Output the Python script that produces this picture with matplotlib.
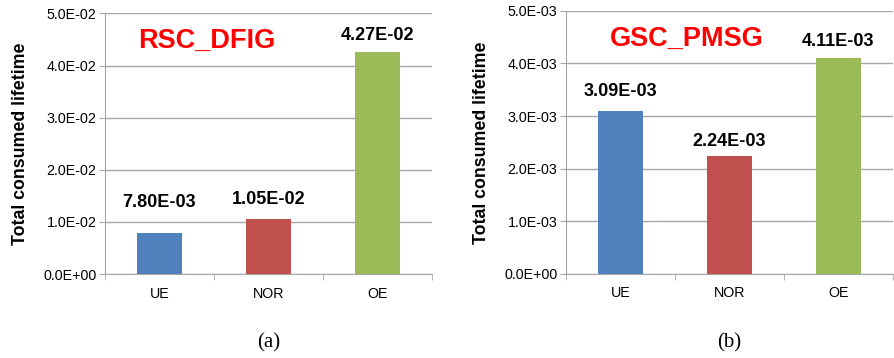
import numpy as np
import matplotlib.pyplot as plt
from matplotlib.ticker import FuncFormatter

plt.rcParams['font.family'] = ['Liberation Sans', 'DejaVu Sans']

# Consumed lifetime per operating mode
categories = ['UE', 'NOR', 'OE']
rsc_dfig = [7.80e-3, 1.05e-2, 4.27e-2]
gsc_pmsg = [3.09e-3, 2.24e-3, 4.11e-3]
rsc_labels = ['7.80E-03', '1.05E-02', '4.27E-02']
gsc_labels = ['3.09E-03', '2.24E-03', '4.11E-03']
rsc_ticks = [0, 1e-2, 2e-2, 3e-2, 4e-2, 5e-2]
gsc_ticks = [0, 1e-3, 2e-3, 3e-3, 4e-3, 5e-3]

colors = ['#4F81BD', '#C0504D', '#9BBB59']
grid_c = '#A6A6A6'


def sci(v, pos=None):
    if v == 0:
        return '0.0E+00'
    return f'{v:.1E}'


def panel(ax, values, labels, ticks, title, tag, title_x, gaps):
    x = np.arange(len(categories))
    ax.bar(x, values, width=0.41, color=colors, zorder=3)
    # data labels sit at hand-placed heights above each bar
    for xi, v, lab, g in zip(x, values, labels, gaps):
        ax.annotate(lab, (xi, v), xytext=(0, g), textcoords='offset points',
                    ha='center', va='bottom', fontsize=13, fontweight='bold')
    ax.set_xlim(-0.5, 2.5)
    ax.set_ylim(ticks[0], ticks[-1])
    ax.set_yticks(ticks)
    ax.yaxis.set_major_formatter(FuncFormatter(sci))
    ax.set_xticks(x)
    ax.set_xticklabels(categories)
    ax.set_xticks([-0.5, 0.5, 1.5, 2.5], minor=True)
    ax.tick_params(axis='x', which='major', length=0, pad=9, labelsize=10.3)
    ax.tick_params(axis='x', which='minor', length=4, color=grid_c, direction='out')
    ax.tick_params(axis='y', length=4, color=grid_c, labelsize=10.3, pad=2)
    ax.grid(axis='y', color=grid_c, linewidth=1, zorder=0)
    for side in ['top', 'right']:
        ax.spines[side].set_visible(False)
    for side in ['left', 'bottom']:
        ax.spines[side].set_color(grid_c)
    ax.set_ylabel('Total consumed lifetime', fontsize=12.8, fontweight='bold', labelpad=10)
    ax.text(title_x, 0.895, title, transform=ax.transAxes, color='red',
            fontsize=19.5, fontweight='bold', ha='center', va='center')
    ax.text(0.5, -0.265, tag, transform=ax.transAxes, ha='center', va='center',
            fontsize=15, family='Liberation Serif')


fig = plt.figure(figsize=(8.94, 3.58), dpi=100)
ax1 = fig.add_axes([0.1174, 0.2346, 0.366, 0.7277])
ax2 = fig.add_axes([0.633, 0.2355, 0.3658, 0.734])

panel(ax1, rsc_dfig, rsc_labels, rsc_ticks, 'RSC_DFIG', '(a)', 0.31, [16, 8, 5.5])
panel(ax2, gsc_pmsg, gsc_labels, gsc_ticks, 'GSC_PMSG', '(b)', 0.37, [8, 4.5, 5.5])

fig.savefig('out.png', dpi=100)
